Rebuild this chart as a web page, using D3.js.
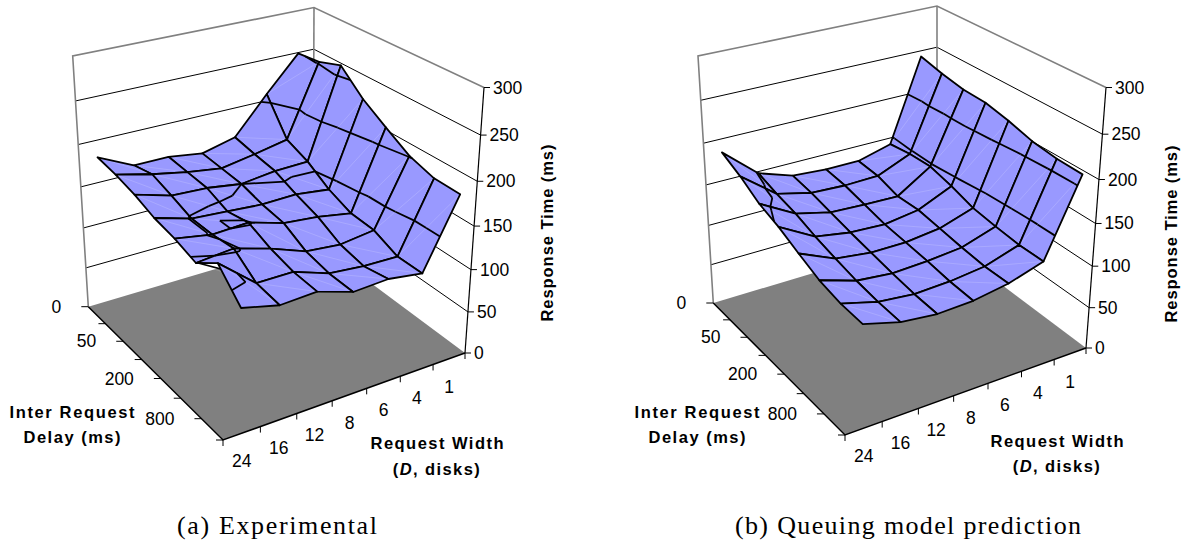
<!DOCTYPE html>
<html><head><meta charset="utf-8"><script src="https://cdn.jsdelivr.net/npm/d3@7"></script>
<style>html,body{margin:0;background:#fff}svg{display:block}</style></head><body>
<svg id="s" width="1184" height="541"></svg>
<script>
const widths=['1','4','6','8','12','16','24'];
const delays=['0','10','50','100','200','400','800','1600'];
const delayLabels=['0','','50','','200','','800',''];
const zTicks=[0,50,100,150,200,250,300];
const experimental=[
[249,252,261,236,218,201,192,191],
[208,167,156,139,128,126,114,114],
[164,159,155,144,135,121,115,120],
[154,152,150,143,139,125,119,118],
[160,158,156,146,151,140,133,131],
[160,166,158,149,149,152,133,129],
[180,176,170,161,156,148,167,139]];
const model=[
[243,236,231,230,224,216,212,211],
[142,146,147,140,131,127,124,124],
[131,129,121,122,118,114,111,111],
[131,128,122,116,113,110,106,104],
[134,130,124,118,113,108,104,102],
[148,140,134,125,118,112,108,106],
[184,172,157,148,136,125,119,117]];
const contourLevels=[50,100,150,200,250];
const KAPPA=0.092;
function quad(B,L,F,R){
 const [x0,y0]=B,[x1,y1]=L,[x2,y2]=F,[x3,y3]=R;
 const dx1=x1-x2,dx2=x3-x2,dx3=x0-x1+x2-x3,dy1=y1-y2,dy2=y3-y2,dy3=y0-y1+y2-y3;
 const den=dx1*dy2-dx2*dy1,g=(dx3*dy2-dx2*dy3)/den,h=(dx1*dy3-dx3*dy1)/den;
 const a=x1-x0+g*x1,b=x3-x0+h*x3,d=y1-y0+g*y1,e=y3-y0+h*y3;
 return (u,v)=>{const w=g*u+h*v+1;return [(a*u+b*v+x0)/w,(d*u+e*v+y0)/w];};
}
function makeProj(c){
 const fl=quad(c.B,c.L,c.F,c.R),tp=quad(c.Bt,c.Lt,c.Ft,c.Rt);
 return (u,v,t)=>{const f=fl(u,v),q=tp(u,v),s=t/(1+KAPPA*(1-t));return [f[0]+(q[0]-f[0])*s,f[1]+(q[1]-f[1])*s];};
}
const uS=d3.scalePoint(widths,[1/14,13/14]),vS=d3.scalePoint(delays,[0,1]),zS=d3.scaleLinear([0,300],[0,1]);
const svg=d3.select('#s');
const SANS='"Liberation Sans",Arial,sans-serif',SERIF='"Liberation Serif",serif';

const layoutA={L:[88.3,306.7],F:[223,440],R:[465,353],B:[313,240],Lt:[72.7,56],Rt:[484,87.5],Bt:[314,7.5],Ft:[219,155],
 delayTitle:[72,412,437],widthTitle:[437,443,469],zTitleX:547,zTitleY:233,cap:'(a) Experimental',capX:277,capW:200};
const layoutB={L:[713.3,303],F:[845,435],R:[1086,348],B:[937,236],Lt:[698,56],Rt:[1106,87.5],Bt:[937,6],Ft:[841,151],
 delayTitle:[697,412,437],widthTitle:[1057,441,466],zTitleX:1171,zTitleY:234,cap:'(b) Queuing model prediction',capX:908,capW:346};

function chart(c,Z){
 const P=makeProj(c),g=svg.append('g');
 const line=(pts,st,w)=>g.append('path').attr('d',d3.line()(pts)).attr('fill','none').attr('stroke',st).attr('stroke-width',w);
 const pj=(r,j,z)=>P(uS(widths[r]),vS(delays[j]),zS(z));
 const text=(s,x,y,o={})=>{const t=g.append('text').attr('x',x).attr('y',y).text(s)
   .attr('font-family',o.f||SANS).attr('font-size',o.s||17.5).attr('font-weight',o.w||400)
   .attr('text-anchor',o.a||'middle').attr('dominant-baseline','central').attr('fill','#000');
   if(o.l){t.attr('textLength',o.l).attr('lengthAdjust','spacing');} return t;};
 // floor and walls
 g.append('path').attr('d',d3.line()([P(0,0,0),P(1,0,0),P(1,1,0),P(0,1,0)])+'Z').attr('fill','#808080');
 contourLevels.forEach(z=>line([P(1,0,zS(z)),P(0,0,zS(z)),P(0,1,zS(z))],'#000',1));
 line([P(1,0,0),P(1,0,1),P(0,0,1),P(0,1,1)],'#808080',1.6);
 line([P(0,0,0),P(0,0,1)],'#808080',1.6);
 // surface, back to front, with contour lines at band limits inside each cell
 for(let r=0;r<widths.length-1;r++)for(let j=0;j<delays.length-1;j++){
  const a={r,j,z:Z[r][j]},b={r,j:j+1,z:Z[r][j+1]},d={r:r+1,j:j+1,z:Z[r+1][j+1]},e={r:r+1,j,z:Z[r+1][j]};
  const pp=q=>pj(q.r,q.j,q.z);
  g.append('path').attr('d',d3.line()([a,b,d,e].map(pp))+'Z').attr('fill','#9999ff').attr('stroke','none');
  line([pp(b),pp(e)],'#ffffff',0.4).attr('stroke-opacity',0.4);
  g.append('path').attr('d',d3.line()([a,b,d,e].map(pp))+'Z').attr('fill','none').attr('stroke','#000').attr('stroke-width',1.8).attr('stroke-linejoin','round');
  [[a,b,e],[b,d,e]].forEach(tri=>contourLevels.forEach(L=>{
   const cr=[];
   for(let k=0;k<3;k++){const p=tri[k],q=tri[(k+1)%3];
    if((p.z<L)!==(q.z<L)){const t=(L-p.z)/(q.z-p.z);
     cr.push(P(uS(widths[p.r])+(uS(widths[q.r])-uS(widths[p.r]))*t,vS(delays[p.j])+(vS(delays[q.j])-vS(delays[p.j]))*t,zS(L)));}}
   if(cr.length===2)line(cr,'#000',1.8);
  }));
 }
 // bottom edges, ticks, labels
 line([P(1,0,0),P(1,1,0),P(0,1,0)],'#000',1.5);
 line([P(0,1,0),P(0,1,1)],'#000',1.2);
 zTicks.forEach(z=>{const p=P(0,1,zS(z));line([p,[p[0]+6,p[1]]],'#000',1);text(z,p[0]+9,p[1],{a:'start'});});
 delays.forEach((d,j)=>{const p=P(1,vS(d),0);line([p,[p[0]-7,p[1]]],'#000',1);
   if(delayLabels[j])text(delayLabels[j],p[0]-27,p[1],{a:'end'});});
 d3.range(widths.length+1).forEach(i=>{const p=P(i/widths.length,1,0);line([p,[p[0],p[1]+6]],'#000',1);});
 widths.forEach(w=>{const p=P(uS(w),1,0);text(w,p[0],p[1]+28);});
 // titles
 const tb={w:700,s:16.5};
 text('Inter Request',c.delayTitle[0],c.delayTitle[1],{...tb,l:125});
 text('Delay (ms)',c.delayTitle[0],c.delayTitle[2],{...tb,l:97});
 text('Request Width',c.widthTitle[0],c.widthTitle[1],{...tb,l:133});
 const t=text('(',c.widthTitle[0],c.widthTitle[2],{...tb}).attr('letter-spacing',1.4);
 t.append('tspan').attr('font-style','italic').text('D');t.append('tspan').text(', disks)');
 text('Response Time (ms)',0,0,{...tb,l:177}).attr('transform',`translate(${c.zTitleX},${c.zTitleY}) rotate(-90)`);
 text(c.cap,c.capX,525,{f:SERIF,s:26,l:c.capW});
}
chart(layoutA,experimental);
chart(layoutB,model);
</script></body></html>
